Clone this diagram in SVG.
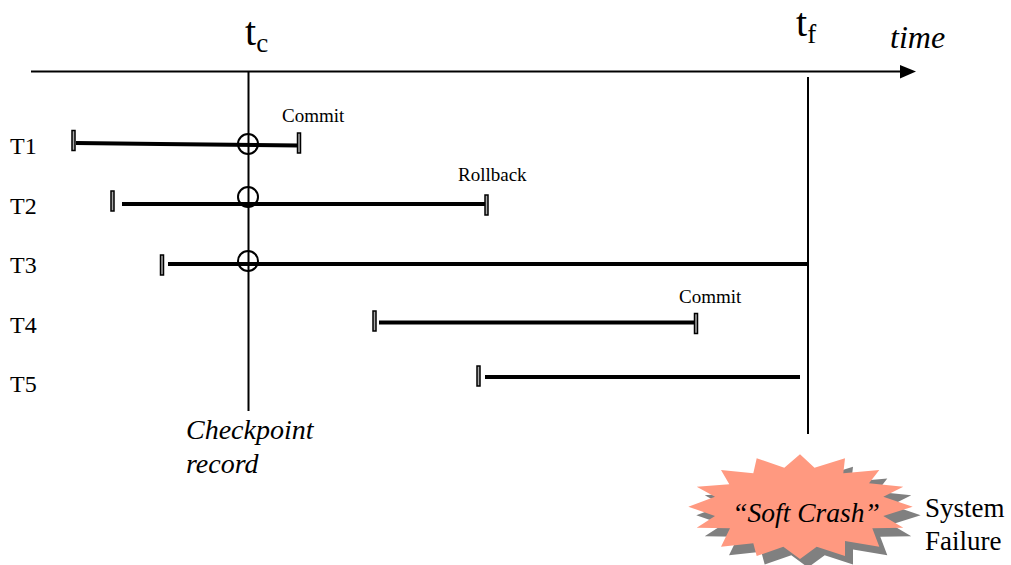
<svg xmlns="http://www.w3.org/2000/svg" width="1011" height="565" viewBox="0 0 1011 565">
<style>
.s{font-family:"Liberation Serif","Times New Roman",serif;fill:#000}
.i{font-style:italic}
.ax{stroke:#000;stroke-width:2;fill:none}
.bar{stroke:#000;stroke-width:4;fill:none}
.tick{fill:#aaa;stroke:#000;stroke-width:1.5}
.c{fill:none;stroke:#000;stroke-width:2}
</style>
<defs>
<polygon id="burst" points="800,454.3 814.5,467.7 845,458.3 843.3,473.3 879.3,470 869,483.3 903.3,486.7 883.3,496.7 912.7,506.7 883.3,516 903.3,527.7 872.3,528.3 879.3,546.7 845,541 845,556 816.7,546.7 800,559 783.3,546.7 756.7,556 753.3,543.3 721,546.7 730,528.3 696.7,527.7 715,516 688.3,506.7 715,496.7 696.7,486.7 729.3,484.3 721,470 753.3,473.3 756.7,458.3 784.3,467.7"/>
</defs>
<rect width="1011" height="565" fill="#fff"/>
<g id="connectors">
<line class="ax" x1="31" y1="71.5" x2="902" y2="71.5"/>
<polygon points="900,65 916,71.5 900,78.5" fill="#000"/>
<line class="ax" x1="248.500" y1="72" x2="248.500" y2="411"/>
<line class="ax" x1="808" y1="77" x2="808" y2="434"/>
<polyline class="bar" points="76,143 160,144 299,145.500"/>
<line class="bar" x1="122" y1="204" x2="486" y2="204"/>
<line class="bar" x1="168" y1="264" x2="808" y2="264"/>
<line class="bar" x1="379" y1="322.500" x2="696" y2="322.500"/>
<line class="bar" x1="485" y1="377" x2="800" y2="377"/>
</g>
<g id="T1"><text class="s" x="10" y="154" font-size="24">T1</text><rect class="tick" x="72" y="130.500" width="3" height="20"/><rect class="tick" x="297.500" y="133" width="3" height="20"/><circle class="c" cx="248" cy="144" r="10"/><text class="s" x="282" y="122" font-size="19">Commit</text></g>
<g id="T2"><text class="s" x="10" y="214" font-size="24">T2</text><rect class="tick" x="111" y="191" width="3" height="20"/><rect class="tick" x="485" y="195" width="3" height="20"/><circle class="c" cx="248" cy="197" r="10"/><text class="s" x="458" y="181" font-size="19">Rollback</text></g>
<g id="T3"><text class="s" x="10" y="273" font-size="24">T3</text><rect class="tick" x="160.500" y="255" width="3" height="20"/><circle class="c" cx="248" cy="261" r="10"/></g>
<g id="T4"><text class="s" x="10" y="333" font-size="24">T4</text><rect class="tick" x="373" y="311" width="3" height="20"/><rect class="tick" x="694.500" y="313.500" width="3" height="20"/><text class="s" x="679" y="303" font-size="19">Commit</text></g>
<g id="T5"><text class="s" x="10" y="392" font-size="24">T5</text><rect class="tick" x="477" y="366" width="3" height="20"/></g>
<g id="tc"><text class="s" x="245" y="45" font-size="40">t<tspan font-size="27" dy="7">c</tspan></text></g>
<g id="tf"><text class="s" x="796" y="36" font-size="40">t<tspan font-size="27" dy="7">f</tspan></text></g>
<g id="time"><text class="s i" x="890" y="48" font-size="32">time</text></g>
<g id="checkpoint"><text class="s i" font-size="28"><tspan x="186" y="439">Checkpoint</tspan><tspan x="186" y="473">record</tspan></text></g>
<g id="crash">
<use href="#burst" x="8" y="8.500" fill="#808080"/>
<use href="#burst" fill="#ff9980"/>
<text class="s i" x="806" y="522" font-size="27.500" text-anchor="middle">“Soft Crash”</text>
</g>
<g id="failure"><text class="s" font-size="27"><tspan x="925" y="517">System</tspan><tspan x="925" y="550">Failure</tspan></text></g>
</svg>
